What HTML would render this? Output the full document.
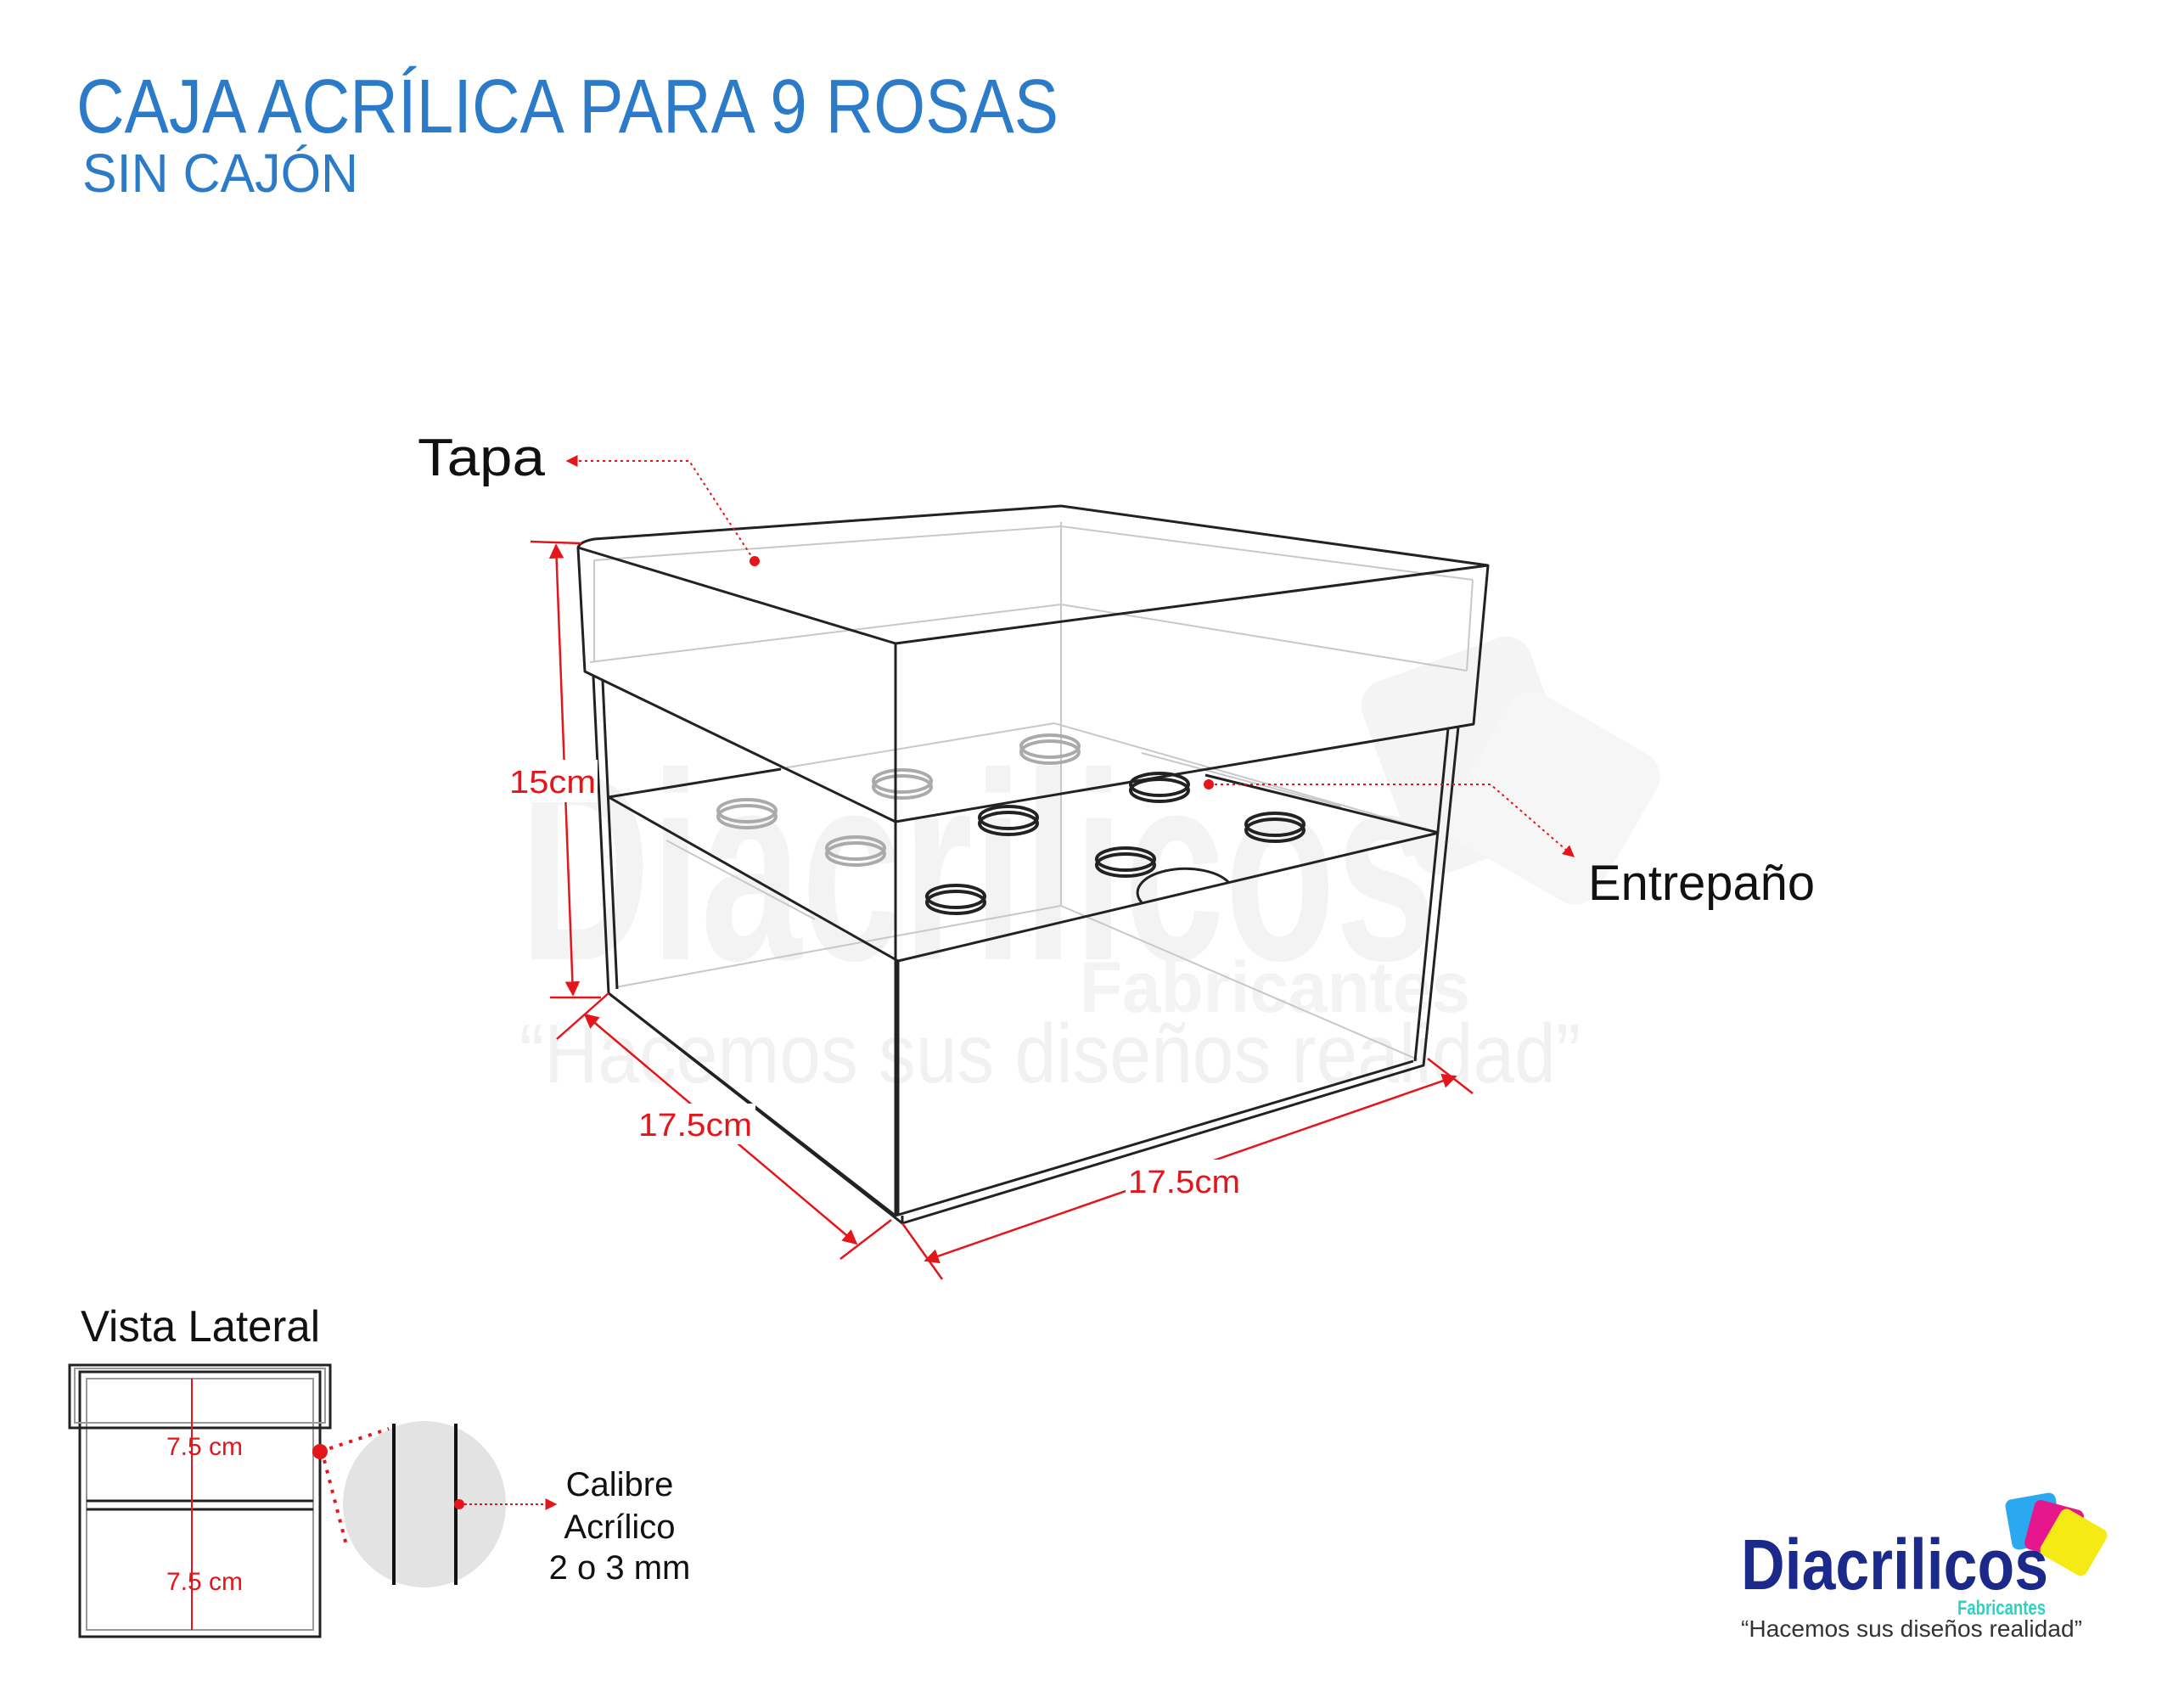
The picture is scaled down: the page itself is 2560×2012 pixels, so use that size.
<!DOCTYPE html>
<html><head><meta charset="utf-8"><style>
html,body{margin:0;padding:0;background:#fff}
svg{display:block}
text{font-family:"Liberation Sans",sans-serif}
</style></head><body>
<svg width="2560" height="2012" viewBox="0 0 2560 2012" xmlns="http://www.w3.org/2000/svg">
<defs>
<marker id="ar" viewBox="0 0 10 10" refX="9" refY="5" markerWidth="7" markerHeight="7" orient="auto-start-reverse"><path d="M0,0L10,5L0,10z" fill="#e4161b"/></marker>
</defs>
<!-- Titles -->
<text x="90" y="156" font-size="90" fill="#2b7bc9" textLength="1157" lengthAdjust="spacingAndGlyphs">CAJA ACRÍLICA PARA 9 ROSAS</text>
<text x="97" y="226" font-size="64" fill="#2b7bc9" textLength="325" lengthAdjust="spacingAndGlyphs">SIN CAJÓN</text>

<!-- watermark -->
<g opacity="0.35">
<rect x="1630" y="770" width="210" height="240" rx="30" fill="#e0e0e0" transform="rotate(-20 1735 890)"/>
<rect x="1730" y="840" width="200" height="200" rx="30" fill="#e6e6e6" transform="rotate(30 1830 940)"/>
</g>
<text x="612" y="1130" font-size="315" font-weight="bold" fill="#f3f3f3" textLength="1080" lengthAdjust="spacingAndGlyphs">Diacrilicos</text>
<text x="1272" y="1192" font-size="84" font-weight="bold" fill="#f3f3f3" textLength="460" lengthAdjust="spacingAndGlyphs">Fabricantes</text>
<text x="612" y="1275" font-size="98" fill="#f1f1f1" textLength="1250" lengthAdjust="spacingAndGlyphs">“Hacemos sus diseños realidad”</text>

<!-- box (behind lines) -->
<g fill="none" stroke="#c8c8c8" stroke-width="2">
<line x1="1250" y1="615" x2="1250" y2="1067"/>
<line x1="725" y1="1163" x2="1250" y2="1067"/>
<line x1="1250" y1="1067" x2="1670" y2="1248"/>
<path d="M700,660 L1250,620 L1735,683"/>
<path d="M695,780 L1250,712 L1728,790"/>
<path d="M700,660 L700,780 M1735,683 L1728,790"/>
<line x1="717" y1="939" x2="1242" y2="852"/>
<line x1="1242" y1="852" x2="1695" y2="981"/>
<line x1="785" y1="990" x2="960" y2="1083"/>
<line x1="1345" y1="887" x2="1580" y2="950"/>
</g>
<!-- holes -->
<g fill="none" stroke-width="4">
<g stroke="#aaa">
<ellipse cx="880" cy="955" rx="34" ry="13"/><ellipse cx="880" cy="962" rx="34" ry="13"/>
<ellipse cx="1063" cy="920" rx="34" ry="13"/><ellipse cx="1063" cy="927" rx="34" ry="13"/>
<ellipse cx="1237" cy="879" rx="34" ry="13"/><ellipse cx="1237" cy="886" rx="34" ry="13"/>
<ellipse cx="1008" cy="999" rx="34" ry="13"/><ellipse cx="1008" cy="1006" rx="34" ry="13"/>
</g>
<g stroke="#222">
<ellipse cx="1188" cy="963" rx="34" ry="13"/><ellipse cx="1188" cy="970" rx="34" ry="13"/>
<ellipse cx="1366" cy="924" rx="34" ry="13"/><ellipse cx="1366" cy="931" rx="34" ry="13"/>
<ellipse cx="1502" cy="971" rx="34" ry="13"/><ellipse cx="1502" cy="978" rx="34" ry="13"/>
<ellipse cx="1326" cy="1012" rx="34" ry="13"/><ellipse cx="1326" cy="1019" rx="34" ry="13"/>
<ellipse cx="1126" cy="1056" rx="34" ry="13"/><ellipse cx="1126" cy="1063" rx="34" ry="13"/>
</g>
<path d="M1345,1063 A52,26 0 0 1 1448,1040" stroke="#222" stroke-width="3"/>
</g>
<!-- main box outlines -->
<g fill="none" stroke="#222" stroke-width="3" stroke-linejoin="round">
<path d="M681,645 Q683,638 700,635 L1250,596 L1753,666 L1736,853 L1055,968 L689,791 Z"/>
<path d="M681,645 L1055,758 L1753,666"/>
<line x1="1055" y1="758" x2="1055" y2="968"/>
<path d="M699,797 L717,1170 L1063,1441 L1677,1255 L1718,856"/>
<path d="M710,802 L727,1165"/>
<path d="M1706,858 L1667,1250"/>
<line x1="1055" y1="968" x2="1055" y2="1432"/>
<line x1="1063" y1="1441" x2="1063" y2="1432"/>
<path d="M717,1170 L1055,1432 L1665,1250"/>
<path d="M717,939 L1058,1132 L1695,981"/>
<path d="M717,939 L920,906"/>
<path d="M1420,913 L1695,981"/>
<line x1="1058" y1="1132" x2="1058" y2="1432"/>
</g>

<!-- dimensions -->
<g stroke="#e4161b" stroke-width="2.5" fill="none">
<line x1="655" y1="642" x2="675" y2="1172" marker-start="url(#ar)" marker-end="url(#ar)"/>
<line x1="625" y1="638" x2="685" y2="640"/><line x1="648" y1="1175" x2="708" y2="1175"/>
<line x1="689" y1="1195" x2="1009" y2="1465" marker-start="url(#ar)" marker-end="url(#ar)"/>
<line x1="656" y1="1224" x2="717" y2="1170"/><line x1="990" y1="1483" x2="1050" y2="1437"/>
<line x1="1090" y1="1485" x2="1715" y2="1268" marker-start="url(#ar)" marker-end="url(#ar)"/>
<line x1="1063" y1="1441" x2="1110" y2="1507"/><line x1="1682" y1="1247" x2="1735" y2="1288"/>
</g>
<g font-size="38" fill="#e4161b">
<rect x="598" y="895" width="106" height="50" fill="#fff"/>
<text x="600" y="934" textLength="102" lengthAdjust="spacingAndGlyphs">15cm</text>
<rect x="750" y="1300" width="140" height="48" fill="#fff"/>
<text x="752" y="1338" textLength="134" lengthAdjust="spacingAndGlyphs">17.5cm</text>
<rect x="1326" y="1366" width="140" height="48" fill="#fff"/>
<text x="1329" y="1405" textLength="132" lengthAdjust="spacingAndGlyphs">17.5cm</text>
</g>

<!-- callouts -->
<g stroke="#e4161b" stroke-width="2" fill="none" stroke-dasharray="3,4">
<path d="M668,543 L812,543 L889,661" marker-start="url(#ar)"/>
<path d="M1424,924 L1756,924 L1854,1009" marker-end="url(#ar)"/>
</g>
<circle cx="889" cy="661" r="6" fill="#e4161b"/>
<circle cx="1424" cy="924" r="6" fill="#e4161b"/>
<text x="492" y="560" font-size="62" fill="#111" textLength="150" lengthAdjust="spacingAndGlyphs">Tapa</text>
<text x="1871" y="1060" font-size="58" fill="#111" textLength="267" lengthAdjust="spacingAndGlyphs">Entrepaño</text>

<!-- Vista lateral -->
<text x="95" y="1580" font-size="52" fill="#111" textLength="282" lengthAdjust="spacingAndGlyphs">Vista Lateral</text>
<g fill="none" stroke="#222">
<rect x="94" y="1616" width="283" height="312" stroke-width="3"/>
<rect x="102" y="1624" width="267" height="296" stroke="#999" stroke-width="2"/>
<rect x="82" y="1608" width="307" height="74" stroke-width="3" fill="none"/>
<rect x="88" y="1612" width="295" height="64" stroke="#999" stroke-width="2"/>
<line x1="102" y1="1768" x2="369" y2="1768" stroke-width="3"/>
<line x1="102" y1="1778" x2="369" y2="1778" stroke-width="3"/>
</g>
<line x1="226" y1="1624" x2="226" y2="1920" stroke="#e4161b" stroke-width="2"/>
<g font-size="30" fill="#e4161b">
<text x="196" y="1714">7.5 cm</text>
<text x="196" y="1873">7.5 cm</text>
</g>
<ellipse cx="500" cy="1772" rx="96" ry="98" fill="#e3e3e3"/>
<line x1="464" y1="1677" x2="464" y2="1867" stroke="#111" stroke-width="4"/>
<line x1="537" y1="1677" x2="537" y2="1867" stroke="#111" stroke-width="4"/>
<g stroke="#e4161b" stroke-width="4" fill="none" stroke-dasharray="4,8">
<path d="M377,1710 L458,1683"/><path d="M382,1720 L408,1820"/>
</g>
<circle cx="377" cy="1710" r="9" fill="#e4161b"/>
<circle cx="541" cy="1772" r="6" fill="#e4161b"/>
<line x1="541" y1="1772" x2="655" y2="1772" stroke="#e4161b" stroke-width="2" stroke-dasharray="3,3" marker-end="url(#ar)"/>
<g font-size="40" fill="#111" text-anchor="middle">
<text x="730" y="1762">Calibre</text>
<text x="730" y="1812">Acrílico</text>
<text x="730" y="1860">2 o 3 mm</text>
</g>

<!-- logo -->
<rect x="2366" y="1762" width="60" height="60" rx="8" fill="#2ba9f0" transform="rotate(-10 2396 1792)"/>
<rect x="2390" y="1772" width="60" height="60" rx="8" fill="#e6178c" transform="rotate(15 2420 1802)"/>
<rect x="2412" y="1786" width="62" height="62" rx="8" fill="#f5ea14" transform="rotate(30 2443 1817)"/>
<text x="2051" y="1872" font-size="84" font-weight="bold" fill="#1b2a8a" textLength="362" lengthAdjust="spacingAndGlyphs">Diacrilicos</text>
<text x="2306" y="1902" font-size="24" font-weight="bold" fill="#2ed3c0" textLength="104" lengthAdjust="spacingAndGlyphs">Fabricantes</text>
<text x="2051" y="1928" font-size="28" fill="#333" textLength="402" lengthAdjust="spacingAndGlyphs">“Hacemos sus diseños realidad”</text>
</svg>
</body></html>
